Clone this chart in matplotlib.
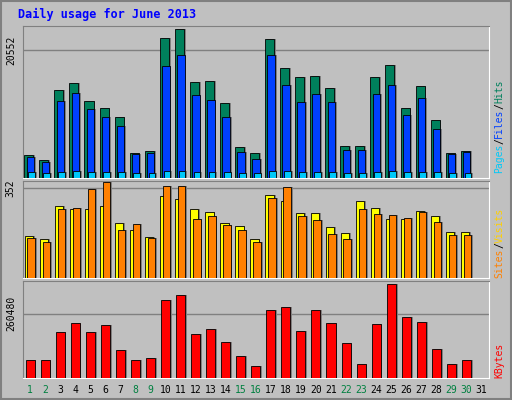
import matplotlib.pyplot as plt
import numpy as np

days = np.arange(1, 31)
hits = [3750, 2940, 14190, 15330, 12400, 11250, 9790, 4080, 4400, 22510, 23980, 15500, 15660, 12070, 5060,
        4080, 22350, 17780, 16310, 16470, 14520, 5220, 5220, 16310, 18270, 11250, 14840, 9300, 4080, 4400]
files = [3430, 2610, 12400, 13700, 11090, 9790, 8320, 3910, 4080, 18100, 19740, 13370, 12560, 9790, 4240,
         3100, 19740, 15010, 12230, 13540, 12230, 4570, 4570, 13540, 15010, 10110, 12880, 7830, 3910, 4240]
pages = [900, 800, 1000, 1100, 1000, 950, 900, 800, 850, 1100, 1100, 1000, 1000, 950, 850,
         800, 1100, 1050, 1000, 1000, 1000, 850, 850, 1000, 1050, 950, 1000, 900, 800, 850]
sites = [166, 154, 281, 269, 269, 281, 214, 190, 162, 320, 308, 269, 257, 214, 202,
         154, 324, 301, 253, 253, 198, 178, 301, 273, 233, 233, 261, 241, 182, 182]
visits = [158, 142, 269, 273, 348, 375, 190, 210, 158, 360, 360, 233, 241, 206, 190,
          142, 312, 356, 241, 229, 174, 154, 269, 249, 245, 237, 257, 221, 170, 170]
kbytes = [74400, 74400, 186000, 223300, 186000, 215000, 111600, 74400, 82700, 314000, 335000, 177800, 198500, 144700, 91000,
          49600, 277000, 289000, 190000, 277000, 223300, 140600, 57900, 219000, 380000, 248000, 227000, 115800, 57900, 74400]
weekend = [1, 2, 8, 9, 15, 16, 22, 23, 29, 30]

bg = '#C0C0C0'
fig = plt.figure(figsize=(5.12, 4.0), dpi=100, facecolor=bg)
fig.patches.append(plt.Rectangle((0.002, 0.002), 0.996, 0.996, transform=fig.transFigure,
                                 fill=False, edgecolor='#808080', lw=1.5))
fig.text(0.035, 0.963, 'Daily usage for June 2013', color='#0000FF', fontsize=8.5,
         fontweight='bold', family='DejaVu Sans Mono', va='center')

x0, x1 = 22.5 / 512, 489 / 512
ax1 = fig.add_axes([x0, 0.555, x1 - x0, 0.38])
ax2 = fig.add_axes([x0, 0.305, x1 - x0, 0.2425])
ax3 = fig.add_axes([x0, 0.055, x1 - x0, 0.2425])

def shaded(ax, x, h, w, color):
    ax.bar(x + 0.12, h, w, color='#808080', zorder=2, bottom=0)
    ax.bar(x, h, w, color=color, edgecolor='black', lw=0.6, zorder=3)

ax1.axhline(20552, color='#808080', lw=1, zorder=1)
shaded(ax1, days - 0.08, hits, 0.6, '#00805C')
shaded(ax1, days + 0.02, files, 0.5, '#0040FF')
shaded(ax1, days + 0.1, pages, 0.45, '#00C8F8')
ax1.set_ylim(0, 24470)

ax2.axhline(352, color='#808080', lw=1, zorder=1)
shaded(ax2, days - 0.08, sites, 0.55, '#FFFF00')
shaded(ax2, days + 0.08, visits, 0.5, '#FF8000')
ax2.set_ylim(0, 380)

ax3.axhline(260480, color='#808080', lw=1, zorder=1)
shaded(ax3, days, kbytes, 0.6, '#FF0000')
ax3.set_ylim(0, 392800)

for ax, lab in [(ax1, '20552'), (ax2, '352'), (ax3, '260480')]:
    ax.set_facecolor(bg)
    ax.set_xlim(0.5, 31.5)
    ax.set_xticks([])
    ax.set_yticks([])
    for s in ax.spines.values():
        s.set_color('#808080')
    ax.spines['bottom'].set_color('white')
    ax.spines['right'].set_color('white')
    lim = ax.get_ylim()[1]
    val = float(lab)
    ax.text(-0.025, val / lim, lab, transform=ax.transAxes, rotation=90, ha='center',
            va='center', fontsize=7, family='DejaVu Sans Mono')

def right_label(ax, parts, y0):
    y = y0
    hpx = ax.get_position().height * 400
    for txt, c in parts:
        ax.text(1.022, y, txt, transform=ax.transAxes, rotation=90, color=c,
                fontsize=7, family='DejaVu Sans Mono', ha='center', va='bottom')
        y += len(txt) * 5.9 / hpx

right_label(ax1, [('Pages', '#00C8F8'), ('/', '#000000'), ('Files', '#0040FF'),
                  ('/', '#000000'), ('Hits', '#00805C')], 0.03)
right_label(ax2, [('Sites', '#FF8000'), ('/', '#000000'), ('Visits', '#FFD000')], 0.0)
right_label(ax3, [('KBytes', '#FF0000')], 0.0)

for d in range(1, 32):
    ax3.text(d, -0.12, str(d), transform=ax3.get_xaxis_transform(), ha='center', va='center',
             fontsize=7, family='DejaVu Sans Mono', color='#008040' if d in weekend else 'black')

fig.savefig('out.png', dpi=100, facecolor=bg)
